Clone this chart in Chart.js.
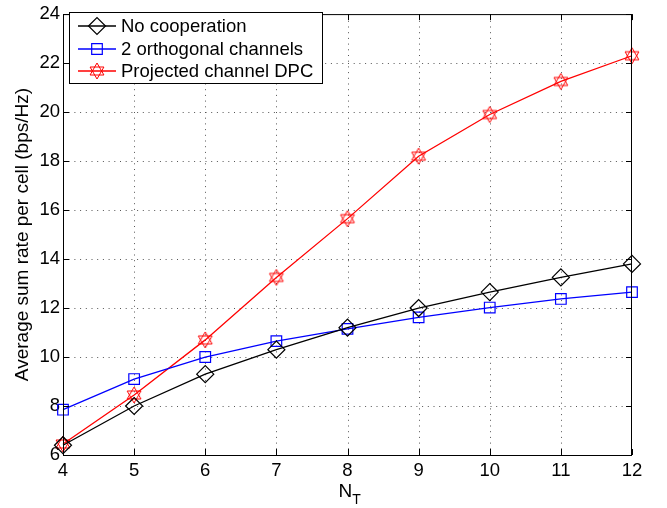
<!DOCTYPE html>
<html>
<head>
<meta charset="utf-8">
<script src="https://cdn.jsdelivr.net/npm/chart.js@4.4.1/dist/chart.umd.min.js"></script>
<style>
  html, body { margin: 0; padding: 0; background: #fff; }
  #chart { display: block; }
</style>
</head>
<body>
<canvas id="chart" width="667" height="508"></canvas>
<script>
// data
const nt = [4, 5, 6, 7, 8, 9, 10, 11, 12];
const noCooperation = [6.4, 8.0, 9.3, 10.3, 11.2, 12.0, 12.65, 13.25, 13.8];
const orthogonal = [7.85, 9.1, 10.0, 10.65, 11.15, 11.62, 12.02, 12.37, 12.65];
const projectedDPC = [6.45, 8.45, 10.7, 13.25, 15.65, 18.2, 19.9, 21.25, 22.3];
const seriesNames = ['No cooperation', '2 orthogonal channels', 'Projected channel DPC'];
const yTicks = [6, 8, 10, 12, 14, 16, 18, 20, 22, 24];

const FONT = '"Liberation Sans", Arial, Helvetica, sans-serif';

// hexagram marker (matlab 'h')
function hexagram(color, r) {
    const c = document.createElement('canvas');
    const s = Math.ceil(r * 2 + 4);
    c.width = s; c.height = s;
    const g = c.getContext('2d');
    g.strokeStyle = color;
    g.lineWidth = 1;
    const cx = s / 2, cy = s / 2;
    [-Math.PI / 2, Math.PI / 2].forEach(start => {
        g.beginPath();
        for (let i = 0; i < 3; i++) {
            const a = start + i * 2 * Math.PI / 3;
            const px = cx + r * Math.cos(a), py = cy + r * Math.sin(a);
            if (i === 0) g.moveTo(px, py); else g.lineTo(px, py);
        }
        g.closePath();
        g.stroke();
    });
    return c;
}
const starImg = hexagram('#ff0000', 8);

function toPoints(vals) {
    return vals.map((v, i) => ({ x: nt[i], y: v }));
}

const datasets = [
    { label: seriesNames[0], data: toPoints(noCooperation), borderColor: '#000000',
      pointStyle: 'rectRot', pointRadius: 8.5 },
    { label: seriesNames[1], data: toPoints(orthogonal), borderColor: '#0000ff',
      pointStyle: 'rect', pointRadius: 7.5 },
    { label: seriesNames[2], data: toPoints(projectedDPC), borderColor: '#ff0000',
      pointStyle: starImg, pointRadius: 8 }
].map(d => Object.assign(d, {
    backgroundColor: 'transparent',
    pointBackgroundColor: 'transparent',
    pointBorderColor: d.borderColor,
    borderWidth: 1.3,
    pointBorderWidth: 1.2,
    tension: 0,
    clip: false
}));

// dotted grid, box, inward ticks, legend, x title
const matlabFrame = {
    id: 'matlabFrame',
    beforeDatasetsDraw(chart) {
        const { ctx, chartArea: a, scales: { x, y } } = chart;
        ctx.save();
        ctx.strokeStyle = '#555';
        ctx.lineWidth = 1;
        ctx.setLineDash([1, 4.7]);
        ctx.beginPath();
        nt.slice(1, -1).forEach(v => {
            const px = Math.round(x.getPixelForValue(v)) + 0.5;
            ctx.moveTo(px, a.bottom); ctx.lineTo(px, a.top);
        });
        yTicks.slice(1, -1).forEach(v => {
            const py = Math.round(y.getPixelForValue(v)) + 0.5;
            ctx.moveTo(a.left, py); ctx.lineTo(a.right, py);
        });
        ctx.stroke();
        ctx.restore();
    },
    afterDatasetsDraw(chart) {
        const { ctx, chartArea: a, scales: { x, y } } = chart;
        ctx.save();
        ctx.strokeStyle = '#000';
        ctx.lineWidth = 1;
        ctx.strokeRect(a.left + 0.5, a.top + 0.5, a.right - a.left - 1, a.bottom - a.top);
        ctx.beginPath();
        nt.forEach(v => {
            const px = Math.round(x.getPixelForValue(v)) + 0.5;
            ctx.moveTo(px, a.bottom); ctx.lineTo(px, a.bottom - 6);
            ctx.moveTo(px, a.top); ctx.lineTo(px, a.top + 6);
        });
        yTicks.forEach(v => {
            const py = Math.round(y.getPixelForValue(v)) + 0.5;
            ctx.moveTo(a.left, py); ctx.lineTo(a.left + 6, py);
            ctx.moveTo(a.right, py); ctx.lineTo(a.right - 6, py);
        });
        ctx.stroke();
        ctx.restore();
    },
    afterDraw(chart) {
        const { ctx, chartArea: a } = chart;
        ctx.save();
        // legend
        const bx = 69.5, by = 12.5, bw = 253, bh = 71;
        ctx.fillStyle = '#fff';
        ctx.fillRect(bx, by, bw, bh);
        ctx.strokeStyle = '#000';
        ctx.lineWidth = 1;
        ctx.strokeRect(bx, by, bw, bh);
        const rows = [26, 49, 71];
        ctx.textBaseline = 'middle';
        chart.data.datasets.forEach((ds, i) => {
            const ry = rows[i];
            ctx.strokeStyle = ds.borderColor;
            ctx.lineWidth = 1.3;
            ctx.beginPath();
            ctx.moveTo(78, ry); ctx.lineTo(116, ry);
            ctx.stroke();
            ctx.lineWidth = 1.2;
            ctx.fillStyle = 'rgba(0,0,0,0)';
            Chart.helpers.drawPoint(ctx, {
                pointStyle: ds.pointStyle, radius: ds.pointRadius, borderWidth: 1.2, rotation: 0
            }, 97, ry);
            ctx.fillStyle = '#000';
            ctx.font = '18.5px ' + FONT;
            ctx.fillText(ds.label, 121, ry + 1);
        });
        // x title with subscript
        const cx = (a.left + a.right) / 2;
        ctx.fillStyle = '#000';
        ctx.textBaseline = 'alphabetic';
        ctx.font = '19px ' + FONT;
        const nW = ctx.measureText('N').width;
        ctx.fillText('N', cx - 9, 497);
        ctx.font = '14px ' + FONT;
        ctx.fillText('T', cx - 9 + nW, 504);
        ctx.restore();
    }
};

new Chart(document.getElementById('chart'), {
    type: 'line',
    data: { datasets },
    options: {
        responsive: false,
        animation: false,
        layout: { padding: { left: 0, right: 35, top: 7, bottom: 0 } },
        plugins: { legend: { display: false }, tooltip: { enabled: false } },
        scales: {
            x: {
                type: 'linear', min: 4, max: 12,
                border: { display: false },
                grid: { display: false, drawTicks: false },
                ticks: { stepSize: 1, padding: 5, color: '#000', maxRotation: 0,
                         font: { family: FONT, size: 18.5 } },
                afterFit(scale) { scale.height = 53; }
            },
            y: {
                type: 'linear', min: 6, max: 24,
                border: { display: false },
                grid: { display: false, drawTicks: false },
                ticks: { stepSize: 2, padding: 3, color: '#000',
                         font: { family: FONT, size: 18.5 } },
                title: { display: true, text: 'Average sum rate per cell (bps/Hz)', color: '#000',
                         font: { family: FONT, size: 19 }, padding: { top: 11, bottom: 0 } },
                afterFit(scale) { scale.width = 63; }
            }
        }
    },
    plugins: [matlabFrame]
});
</script>
</body>
</html>
